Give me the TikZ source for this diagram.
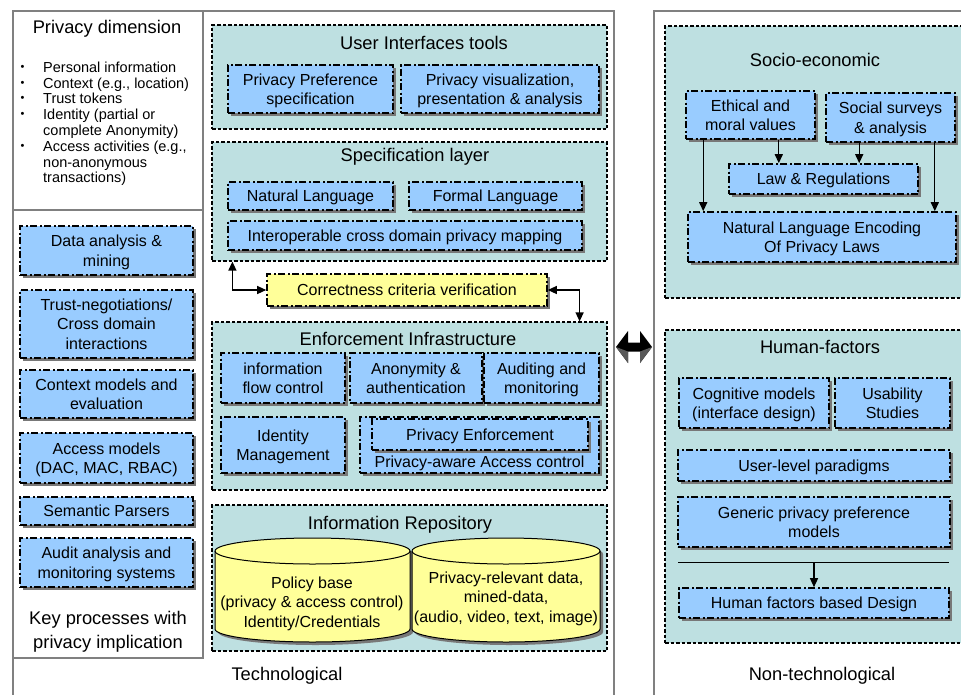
\documentclass[tikz,border=0pt]{standalone}
\usepackage{fontspec}
\setmainfont{Liberation Sans}
\usetikzlibrary{arrows.meta,shadows,calc}

\definecolor{boxblue}{RGB}{153,204,255}
\definecolor{layerteal}{RGB}{190,224,225}
\definecolor{noteyellow}{RGB}{255,255,153}
\definecolor{framegray}{RGB}{128,128,128}
\definecolor{shadowgray}{RGB}{120,120,120}

\newcommand\bxfont{\fontsize{16}{19.5}\selectfont}
\newcommand\ttlfont{\fontsize{18.3}{24}\selectfont}
\newcommand\bulfont{\fontsize{14.5}{15.8}\selectfont}
\newcommand\bul{\makebox[23pt][l]{\hspace{0.5pt}\raisebox{2pt}{\fontsize{11}{11}\selectfont•}}}
\newcommand\nobul{\makebox[23pt]{}}

\tikzset{
  frame/.style={draw=framegray, line width=2pt, inner sep=0pt, anchor=north west},
  layer/.style={draw=black, fill=layerteal, line width=1.2pt,
    dash pattern=on 3.5pt off 2pt, inner sep=0pt},
  item/.style={draw=black, fill=boxblue, line width=1.6pt,
    dash pattern=on 7pt off 2.5pt on 2pt off 2.5pt, inner sep=0pt,
    align=center, font=\bxfont, text depth=0pt,
    drop shadow={shadow xshift=2.5pt, shadow yshift=-2.5pt,
      fill=shadowgray, opacity=1}},
  note/.style={item, fill=noteyellow},
  ttl/.style={inner sep=0pt, align=center, font=\ttlfont, text depth=0pt},
  txt/.style={inner sep=0pt, align=center, font=\bxfont, text depth=0pt},
  arr/.style={draw=black, line width=1.3pt, -{Triangle[length=9pt,width=8pt]}},
  biarr/.style={draw=black, line width=1.3pt,
    {Triangle[length=9pt,width=8pt]}-{Triangle[length=9pt,width=8pt]}},
  dbfill/.style={fill=noteyellow, draw=black, line width=1pt}
}

\begin{document}
\begin{tikzpicture}[x=1pt,y=-1pt]
\useasboundingbox (0,0) rectangle (961,694);
\fill[white] (0,0) rectangle (961,694);

% ---------- outer frames ----------
\node[frame, minimum width=601, minimum height=720] (tech) at (12,10) {};
\node[frame, minimum width=400, minimum height=720] (nontech) at (653,10) {};
\node[frame, minimum width=190, minimum height=647] (lcol) at (12,10) {};
\coordinate (divy) at (0,210);
\draw[framegray, line width=2pt] (lcol.west |- divy) -- (lcol.east |- divy);

\node[ttl] (tech-t) at (287,674) {Technological};
\node[ttl] (nontech-t) at (822,674) {Non-technological};

% ---------- privacy dimension ----------
\node[ttl] (pdim) at (107,27) {Privacy dimension};
\node[inner sep=0pt, anchor=north west, align=left, font=\bulfont] (pdlist) at (20,61.5) {%
\bul Personal information\\
\bul Context (e.g., location)\\
\bul Trust tokens\\
\bul Identity (partial or\\
\nobul complete Anonymity)\\
\bul Access activities (e.g.,\\
\nobul non-anonymous\\
\nobul transactions)};

% ---------- key processes ----------
\node[item, minimum width=173, minimum height=49] (dam) at (106.5,250.5) {Data analysis \&\\mining};
\node[item, minimum width=173, minimum height=68] (tnc) at (106.5,324) {Trust-negotiations/\\Cross domain\\interactions};
\node[item, minimum width=173, minimum height=48] (cme) at (106.5,394) {Context models and\\evaluation};
\node[item, minimum width=173, minimum height=50] (acm) at (106.5,458) {Access models\\(DAC, MAC, RBAC)};
\node[item, minimum width=173, minimum height=28] (spa) at (106.5,511) {Semantic Parsers};
\node[item, minimum width=173, minimum height=49] (aam) at (106.5,562.5) {Audit analysis and\\monitoring systems};
\node[ttl] (keyp) at (108,630) {Key processes with\\privacy implication};

% ---------- user interface tools ----------
\node[layer, minimum width=395, minimum height=104] (ui) at (409.5,77) {};
\node[ttl] (ui-t) at (424,43) {User Interfaces tools};
\node[item, minimum width=165, minimum height=48] (ppref) at (310.5,89) {Privacy Preference\\specification};
\node[item, minimum width=198, minimum height=48] (pvis) at (500,89) {Privacy visualization,\\presentation \& analysis};

% ---------- specification layer ----------
\node[layer, minimum width=395, minimum height=119] (spec) at (409.5,201.5) {};
\node[ttl] (spec-t) at (415,155) {Specification layer};
\node[item, minimum width=165, minimum height=28] (natl) at (310.5,196) {Natural Language};
\node[item, minimum width=173, minimum height=28] (forl) at (495.5,196) {Formal Language};
\node[item, minimum width=354, minimum height=29] (interop) at (405,235.5) {Interoperable cross domain privacy mapping};

% ---------- correctness verification ----------
\node[note, minimum width=280, minimum height=32] (ccv) at (407,290) {Correctness criteria verification};

% ---------- enforcement infrastructure ----------
\node[layer, minimum width=395, minimum height=168] (enf) at (409.5,406) {};
\node[ttl] (enf-t) at (408,339) {Enforcement Infrastructure};
\node[item, minimum width=124, minimum height=50] (ifc) at (283,378) {information\\flow control};
\node[item, minimum width=132, minimum height=50] (anon) at (416,378) {Anonymity \&\\authentication};
\node[item, minimum width=115, minimum height=50] (audm) at (541.5,378) {Auditing and\\monitoring};
\node[item, minimum width=124, minimum height=56] (idm) at (283,445) {Identity\\Management};
\node[item, minimum width=239, minimum height=56] (paac) at (479.5,445) {};
\node[item, minimum width=216, minimum height=31] (penf) at (480,434.5) {Privacy Enforcement};
\node[txt] (paac-t) at (479.5,462) {Privacy-aware Access control};

\draw[biarr] ($(spec.south west)+(21,0)$) |- (ccv.west);
\draw[biarr] (ccv.east) -| ($(enf.north east)+(-28,0)$);

% ---------- information repository ----------
\node[layer, minimum width=395, minimum height=146] (repo) at (409.5,578) {};
\node[ttl] (repo-t) at (400,523) {Information Repository};

% database cylinders: shadow first, then body and the front rim of the lid
\begin{scope}[shift={(3,3)}]
  \fill[shadowgray] (215,551) -- (215,629) arc[start angle=180, end angle=360, x radius=97.5pt, y radius=13pt]
    -- (410,551) arc[start angle=0, end angle=180, x radius=97.5pt, y radius=13pt] -- cycle;
  \fill[shadowgray] (412,551) -- (412,629) arc[start angle=180, end angle=360, x radius=94pt, y radius=13pt]
    -- (600,551) arc[start angle=0, end angle=180, x radius=94pt, y radius=13pt] -- cycle;
\end{scope}
\draw[dbfill] (215,551) -- (215,629) arc[start angle=180, end angle=360, x radius=97.5pt, y radius=13pt]
  -- (410,551) arc[start angle=0, end angle=180, x radius=97.5pt, y radius=13pt] -- cycle;
\draw[black, line width=1pt] (215,551) arc[start angle=180, end angle=360, x radius=97.5pt, y radius=13pt];
\draw[dbfill] (412,551) -- (412,629) arc[start angle=180, end angle=360, x radius=94pt, y radius=13pt]
  -- (600,551) arc[start angle=0, end angle=180, x radius=94pt, y radius=13pt] -- cycle;
\draw[black, line width=1pt] (412,551) arc[start angle=180, end angle=360, x radius=94pt, y radius=13pt];
\node[txt] (polb) at (312,602) {Policy base\\(privacy \& access control)\\Identity/Credentials};
\node[txt] (prd) at (506,597) {Privacy-relevant data,\\mined-data,\\(audio, video, text, image)};

% ---------- socio-economic ----------
\node[layer, minimum width=310, minimum height=272] (socio) at (820,162) {};
\node[ttl] (socio-t) at (815,60) {Socio-economic};
\node[item, minimum width=129, minimum height=48] (eth) at (750.5,115) {Ethical and\\moral values};
\node[item, minimum width=129, minimum height=49] (soc) at (890.5,117.5) {Social surveys\\\& analysis};
\node[item, minimum width=189, minimum height=30] (law) at (823.5,179) {Law \& Regulations};
\node[item, minimum width=268, minimum height=50] (nle) at (822,237) {Natural Language Encoding\\Of Privacy Laws};

\coordinate (e1) at ($(eth.south west)+(18,0)$);
\coordinate (e2) at ($(eth.south east)+(-37,0)$);
\coordinate (s1) at ($(soc.south west)+(34,0)$);
\coordinate (s2) at ($(soc.south east)+(-21,0)$);
\draw[arr] (e1) -- (e1 |- nle.north);
\draw[arr] (e2) -- (e2 |- law.north);
\draw[arr] (s1) -- (s1 |- law.north);
\draw[arr] (s2) -- (s2 |- nle.north);

% ---------- human factors ----------
\node[layer, minimum width=310, minimum height=313] (human) at (820,486.5) {};
\node[ttl] (human-t) at (820,347) {Human-factors};
\node[item, minimum width=150, minimum height=50] (cog) at (754,403) {Cognitive models\\(interface design)};
\node[item, minimum width=115, minimum height=50] (usab) at (892.5,403) {Usability\\Studies};
\node[item, minimum width=272, minimum height=31] (ulp) at (814,465.5) {User-level paradigms};
\node[item, minimum width=272, minimum height=50] (gpp) at (814,522) {Generic privacy preference\\models};
\node[item, minimum width=270, minimum height=30] (hfd) at (814,603) {Human factors based Design};

\coordinate (hfl-a) at (678,562);
\coordinate (hfl-b) at (949,562);
\draw[black, line width=0.8pt] (hfl-a) -- (hfl-b);
\draw[arr] (hfd.north |- hfl-a) -- (hfd.north);

% ---------- link between the two halves ----------
\coordinate (ay) at (0,347);
\coordinate (dal) at ($(tech.east |- ay)+(1,0)$);
\coordinate (dar) at ($(nontech.west |- ay)+(-1,0)$);
\fill[black] (dal) -- ++(12,-16) -- ++(0,11.5) -- ($(dar)+(-12,-4.5)$) -- ++(0,-11.5) -- (dar)
  -- ++(-12,16) -- ++(0,-11.5) -- ($(dal)+(12,4.5)$) -- ++(0,11.5) -- cycle;
\fill[gray!70!black] (dal) -- ++(12,4.5) -- ++(0,11.5) -- cycle;
\fill[gray!70!black] (dar) -- ++(-12,4.5) -- ++(0,11.5) -- cycle;

\end{tikzpicture}
\end{document}
